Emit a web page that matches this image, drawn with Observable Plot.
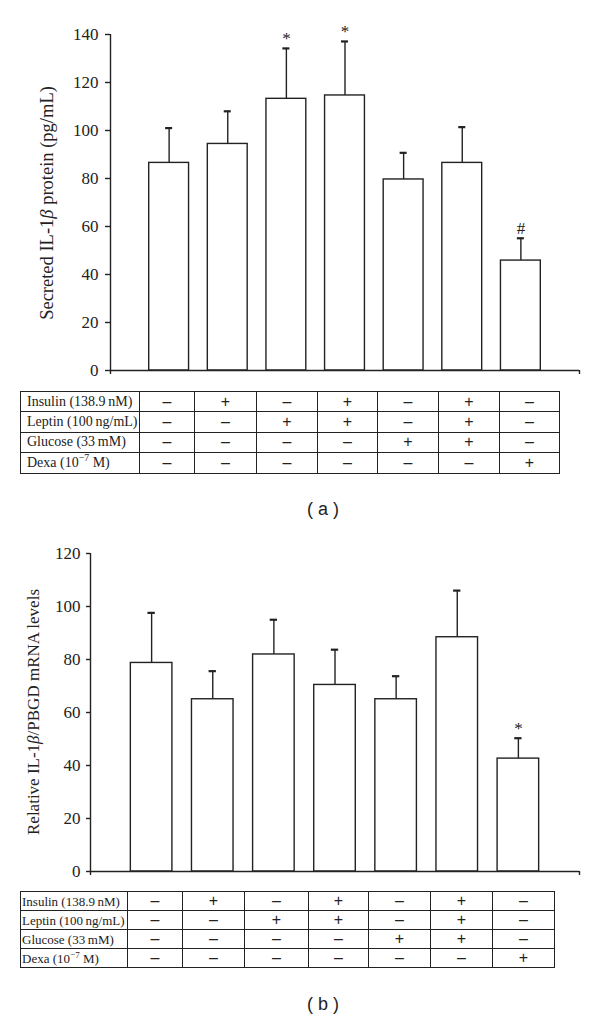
<!DOCTYPE html>
<html>
<head>
<meta charset="utf-8">
<script src="https://cdn.jsdelivr.net/npm/d3@7"></script>
<script src="https://cdn.jsdelivr.net/npm/@observablehq/plot@0.6"></script>
<style>
  html, body { margin: 0; padding: 0; background: #fff; }
  #root { position: relative; width: 600px; height: 1020px; background: #fff; overflow: hidden; }
  .abs { position: absolute; }
  .chart svg text { font-family: "Liberation Serif", serif !important; font-size: 17px !important; }
  table.treat { border-collapse: collapse; table-layout: fixed; font-family: "Liberation Serif", serif; color: #222; }
  table.treat td { border: 1.5px solid #222; padding: 0; line-height: 1; white-space: nowrap; }
  table.treat td.sign { text-align: center; font-family: "Liberation Sans", sans-serif; font-size: 16px; }
  table.treat sup { font-size: 0.7em; line-height: 0; }
  .cap { font-family: "Liberation Sans", sans-serif; font-size: 18px; color: #222; text-align: center; width: 100px; line-height: 20px; }
</style>
</head>
<body>
<div id="root">
  <div id="pa" class="abs chart" style="left:0;top:0"></div>
  <div id="ta" class="abs" style="left:20px;top:391px"></div>
  <div class="abs cap" style="left:273px;top:499px">( a )</div>
  <div id="pb" class="abs chart" style="left:0;top:520px"></div>
  <div id="tb" class="abs" style="left:20px;top:891px"></div>
  <div class="abs cap" style="left:273px;top:994px">( b )</div>
</div>
<script>
// ---- data ----
const groups = [1, 2, 3, 4, 5, 6, 7];

const aMean = [86.5, 94.4, 113.2, 114.6, 79.6, 86.5, 45.8];
const aErr  = [14.5, 13.6, 21.0, 22.5, 11.1, 14.9, 9.3];
const aSig  = ["", "", "*", "*", "", "", "#"];
const aTicks = [0, 20, 40, 60, 80, 100, 120, 140];

const bMean = [78.7, 65.0, 81.9, 70.4, 65.0, 88.4, 42.6];
const bErr  = [18.9, 10.6, 13.1, 13.3, 8.7, 17.6, 7.7];
const bSig  = ["", "", "", "", "", "", "*"];
const bTicks = [0, 20, 40, 60, 80, 100, 120];

const treatLabels = ["Insulin (138.9\u2009nM)", "Leptin (100\u2009ng/mL)", "Glucose (33\u2009mM)", "Dexa (10<sup>\u22127</sup> M)"];
const insulin = ["\u2013", "+", "\u2013", "+", "\u2013", "+", "\u2013"];
const leptin  = ["\u2013", "\u2013", "+", "+", "\u2013", "+", "\u2013"];
const glucose = ["\u2013", "\u2013", "\u2013", "\u2013", "+", "+", "\u2013"];
const dexa    = ["\u2013", "\u2013", "\u2013", "\u2013", "\u2013", "\u2013", "+"];
const treatRows = [insulin, leptin, glucose, dexa];

const ink = "#222";
const serif = "Liberation Serif";

function barChart({mean, err, sig, ticks, yMax, height, marginTop, marginBottom, marginLeft, marginRight,
                   fontSize, tickSize, tickPadding, labelParts, labelX, labelY, labelSize}) {
  const data = groups.map((g, k) => ({i: g, mean: mean[k], top: mean[k] + err[k], sig: sig[k]}));
  const half = 0.34, cap = 0.06;
  const svg = Plot.plot({
    width: 600, height, marginTop, marginBottom, marginLeft, marginRight,
    x: {domain: [0, 8], axis: null},
    y: {domain: [0, yMax], axis: null},
    style: {fontFamily: serif, fontSize: fontSize + "px", color: ink, background: "white"},
    marks: [
      Plot.ruleX(data, {x: "i", y1: "mean", y2: "top", stroke: ink, strokeWidth: 1.4}),
      Plot.ruleY(data, {y: "top", x1: d => d.i - cap, x2: d => d.i + cap, stroke: ink, strokeWidth: 2.2}),
      Plot.rect(data, {x1: d => d.i - half, x2: d => d.i + half, y1: 0, y2: "mean", fill: "white", stroke: ink, strokeWidth: 1.4}),
      Plot.text(data.filter(d => d.sig), {x: "i", y: "top", text: "sig", dy: -4, lineAnchor: "bottom", fill: ink}),
      Plot.ruleX([0], {y1: 0, y2: yMax, stroke: ink, strokeWidth: 1.4}),
      Plot.ruleY([0], {x1: 0, x2: 8, stroke: ink, strokeWidth: 1.4}),
      Plot.axisY({ticks, tickSize, tickPadding, label: null, stroke: ink, strokeWidth: 1.4, fill: ink}),
      Plot.axisX({ticks: [0, 8], tickSize: 4, tickFormat: () => "", label: null, stroke: ink, strokeWidth: 1.4})
    ]
  });
  const t = d3.select(svg).append("text")
    .attr("transform", `translate(${labelX},${labelY}) rotate(-90)`)
    .attr("text-anchor", "middle")
    .attr("dominant-baseline", "central")
    .style("font-family", `"${serif}", serif`)
    .style("font-size", labelSize + "px", "important")
    .attr("fill", ink);
  labelParts.forEach(([s, it]) => t.append("tspan").attr("font-style", it ? "italic" : "normal").text(s));
  return svg;
}

function treatTable(colWidths, rowH, labelPad, labelSize) {
  const tbl = document.createElement("table");
  tbl.className = "treat";
  const total = colWidths.reduce((a, b) => a + b, 0);
  tbl.style.width = total + "px";
  const cg = document.createElement("colgroup");
  colWidths.forEach(w => { const c = document.createElement("col"); c.style.width = w + "px"; cg.appendChild(c); });
  tbl.appendChild(cg);
  treatRows.forEach((row, r) => {
    const tr = document.createElement("tr");
    tr.style.height = rowH + "px";
    const th = document.createElement("td");
    th.innerHTML = treatLabels[r];
    th.style.paddingLeft = labelPad + "px";
    th.style.fontSize = labelSize + "px";
    tr.appendChild(th);
    row.forEach(s => { const td = document.createElement("td"); td.className = "sign"; td.textContent = s; tr.appendChild(td); });
    tbl.appendChild(tr);
  });
  return tbl;
}

document.getElementById("pa").appendChild(barChart({
  mean: aMean, err: aErr, sig: aSig, ticks: aTicks, yMax: 140,
  height: 380, marginTop: 34, marginBottom: 10, marginLeft: 110, marginRight: 21,
  fontSize: 17, tickSize: 5, tickPadding: 7,
  labelParts: [["Secreted IL-1", false], ["\u03b2", true], [" protein (pg/mL)", false]],
  labelX: 47, labelY: 203, labelSize: 18.5
}));

document.getElementById("pb").appendChild(barChart({
  mean: bMean, err: bErr, sig: bSig, ticks: bTicks, yMax: 120,
  height: 360, marginTop: 33, marginBottom: 9, marginLeft: 90, marginRight: 21,
  fontSize: 17, tickSize: 4, tickPadding: 6,
  labelParts: [["Relative IL-1", false], ["\u03b2", true], ["/PBGD mRNA levels", false]],
  labelX: 33, labelY: 192, labelSize: 17
}));

document.getElementById("ta").appendChild(treatTable([119, 55, 62, 61, 60, 61, 61, 60], 20.4, 6, 14));
document.getElementById("tb").appendChild(treatTable([107, 55, 62, 64, 60, 62, 62, 62], 19, 1, 13));
</script>
</body>
</html>
